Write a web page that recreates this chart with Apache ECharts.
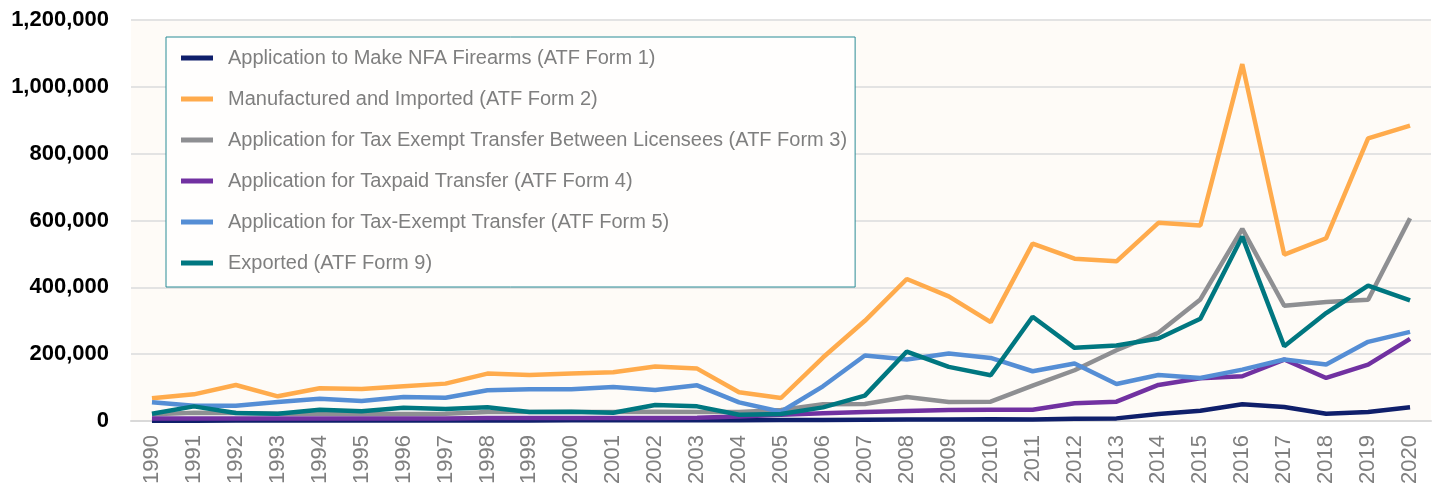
<!DOCTYPE html>
<html>
<head>
<meta charset="utf-8">
<script src="https://cdn.jsdelivr.net/npm/echarts@6/dist/echarts.min.js"></script>
<style>
  html, body { margin: 0; padding: 0; background: #ffffff; }
  #chart { width: 1440px; height: 487px; }
</style>
</head>
<body>
<div id="chart"></div>
<script>
const years = ["1990", "1991", "1992", "1993", "1994", "1995", "1996", "1997", "1998", "1999", "2000",
  "2001", "2002", "2003", "2004", "2005", "2006", "2007", "2008", "2009", "2010",
  "2011", "2012", "2013", "2014", "2015", "2016", "2017", "2018", "2019", "2020"];

const form1 = [1000, 1200, 1300, 1400, 1500, 1600, 1700, 1800, 1900, 2000, 2100, 2200, 2300, 2400, 2500,
  3000, 3500, 4000, 4500, 5000, 5500, 5000, 7000, 8000, 21000, 31000, 50000, 42000, 22000, 27000, 41000];
const form2 = [68000, 80000, 108000, 74000, 98000, 96000, 104000, 112000, 142000, 138000, 142000, 146000,
  163000, 157000, 86000, 69000, 190000, 300000, 425000, 373000, 296000, 531000, 486000, 478000, 593000,
  585000, 1068000, 498000, 547000, 846000, 884000];
const form3 = [20000, 25000, 24000, 22000, 22000, 21000, 21000, 22000, 27000, 27000, 27000, 27000, 28000,
  27000, 27000, 33000, 50000, 51000, 72000, 57000, 58000, 106000, 152000, 212000, 264000, 364000, 575000,
  345000, 356000, 363000, 607000];
const form4 = [8000, 8000, 8000, 8000, 8000, 8000, 8000, 8000, 9000, 9000, 9000, 9000, 9000, 10000, 14000,
  19000, 23000, 27000, 30000, 33000, 34000, 34000, 53000, 58000, 108000, 128000, 134000, 184000, 129000,
  169000, 246000];
const form5 = [56000, 46000, 46000, 57000, 67000, 60000, 72000, 70000, 92000, 95000, 95000, 102000, 93000,
  107000, 56000, 28000, 104000, 196000, 184000, 202000, 189000, 149000, 172000, 111000, 138000, 129000,
  154000, 184000, 169000, 237000, 267000];
const form9 = [22000, 44000, 24000, 22000, 34000, 29000, 40000, 36000, 41000, 27000, 28000, 25000, 48000,
  44000, 19000, 21000, 41000, 76000, 208000, 162000, 137000, 312000, 219000, 226000, 247000, 306000, 552000,
  224000, 323000, 405000, 361000];

const seriesNames = [
  "Application to Make NFA Firearms (ATF Form 1)",
  "Manufactured and Imported (ATF Form 2)",
  "Application for Tax Exempt Transfer Between Licensees (ATF Form 3)",
  "Application for Taxpaid Transfer (ATF Form 4)",
  "Application for Tax-Exempt Transfer (ATF Form 5)",
  "Exported (ATF Form 9)"
];
const seriesData = [form1, form2, form3, form4, form5, form9];
const colors = ["#0f1f6b", "#ffab4c", "#8e8f92", "#7131a1", "#558ed5", "#007780"];

const font = "'Liberation Sans', Arial, sans-serif";

const chart = echarts.init(document.getElementById("chart"));

const options = {
  animation: false,
  color: colors,
  grid: {
    left: 131,
    right: 9,
    top: 20,
    bottom: 65,
    show: true,
    backgroundColor: "#fefbf7",
    borderWidth: 0,
  },
  legend: {
    orient: "vertical",
    left: 166,
    top: 37,
    padding: [10, 8, 13, 15],
    itemGap: 19,
    itemWidth: 32,
    itemHeight: 5,
    icon: "rect",
    backgroundColor: "#fffefd",
    borderColor: "#2b8c96",
    borderWidth: 1,
    textStyle: {
      fontFamily: font,
      fontSize: 20,
      color: "#7f7f7f",
      lineHeight: 22,
      padding: [0, 0, 0, 10],
    },
    data: seriesNames,
  },
  xAxis: {
    type: "category",
    data: years,
    boundaryGap: true,
    axisTick: { show: false },
    axisLine: { lineStyle: { color: "#d9d9d9", width: 2 } },
    axisLabel: {
      interval: 0,
      rotate: 90,
      margin: 14,
      fontFamily: font,
      fontSize: 22,
      color: "#7f7f7f",
    },
  },
  yAxis: {
    type: "value",
    min: 0,
    max: 1200000,
    interval: 200000,
    axisLine: { show: false },
    axisTick: { show: false },
    splitLine: { lineStyle: { color: "#e3e3e3", width: 2 } },
    axisLabel: {
      margin: 22,
      fontFamily: font,
      fontSize: 22,
      fontWeight: "bold",
      color: "#000000",
      formatter: (v) => v.toLocaleString("en-US"),
    },
  },
  series: seriesNames.map((name, i) => ({
    name: name,
    type: "line",
    data: seriesData[i],
    showSymbol: false,
    symbol: "none",
    lineStyle: { width: 4.5, color: colors[i] },
    itemStyle: { color: colors[i] },
  })),
};

chart.setOption(options);
</script>
</body>
</html>
